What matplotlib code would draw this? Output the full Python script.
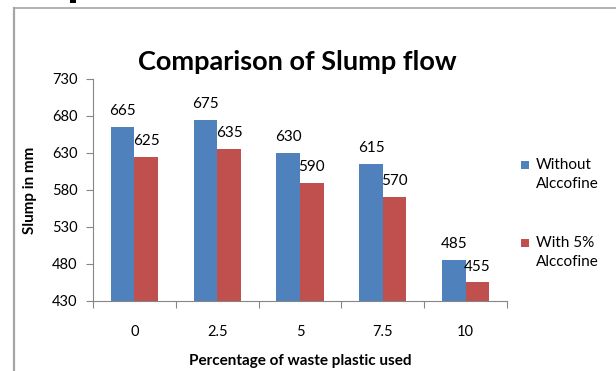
import matplotlib
matplotlib.use('Agg')
import matplotlib.pyplot as plt
import numpy as np
from matplotlib.lines import Line2D
from matplotlib.patches import Rectangle

# data
categories = ['0', '2.5', '5', '7.5', '10']
without_alccofine = [665, 675, 630, 615, 485]
with_alccofine = [625, 635, 590, 570, 455]
series_names = ['Without\nAlccofine', 'With 5%\nAlccofine']

BLUE = '#4F81BD'
RED = '#C0504D'
AXIS = '#868686'
FONT = 'Lato'

W, H = 616, 371
fig = plt.figure(figsize=(W / 100, H / 100), dpi=100)
fig.patch.set_facecolor('white')

# frame of the embedded chart
fig.add_artist(Line2D([14 / W, 14 / W], [0, 1 - 8 / H], color='#A6A6A6', lw=1.6))
fig.add_artist(Line2D([14 / W, 1], [1 - 8 / H, 1 - 8 / H], color='#A6A6A6', lw=1.2))
# bit of document text peeking above the chart
fig.add_artist(Rectangle((70 / W, 1 - 3 / H), 6 / W, 3 / H, color='black', lw=0))

ax = fig.add_axes([93 / W, 1 - 301 / H, (507 - 93) / W, (301 - 79) / H])
x = np.arange(len(categories))
bw = 1 / 3.5
b1 = ax.bar(x - bw / 2, [v - 430 for v in without_alccofine], bw, bottom=430,
            color=BLUE, label=series_names[0])
b2 = ax.bar(x + bw / 2, [v - 430 for v in with_alccofine], bw, bottom=430,
            color=RED, label=series_names[1])

for bars, vals in ((b1, without_alccofine), (b2, with_alccofine)):
    for rect, v in zip(bars, vals):
        ax.annotate(str(v), (rect.get_x() + rect.get_width() / 2, v),
                    xytext=(0, 11.5), textcoords='offset points',
                    ha='center', va='center', fontsize=11, family=FONT,
                    color='black')

ax.set_xlim(-0.5, len(categories) - 0.5)
ax.set_ylim(430, 730)
ax.set_yticks(np.arange(430, 731, 50))
ax.set_xticks(np.arange(-0.5, len(categories)), minor=False)
ax.set_xticklabels([])
ax.set_xticks(x, minor=True)
ax.set_xticklabels(categories, minor=True)
ax.tick_params(axis='x', which='major', length=5, color=AXIS, direction='out')
ax.tick_params(axis='x', which='minor', length=0, pad=17, labelsize=10.5)
ax.tick_params(axis='y', length=5, color=AXIS, direction='out', labelsize=10.5, pad=6)
for lab in ax.get_xticklabels(minor=True) + ax.get_yticklabels():
    lab.set_fontfamily(FONT)

for s in ['top', 'right']:
    ax.spines[s].set_visible(False)
ax.spines['left'].set_color(AXIS)
ax.spines['bottom'].set_color(AXIS)

ax.set_xlabel('Percentage of waste plastic used', fontsize=11, fontweight='bold',
              family=FONT, labelpad=11)
ax.set_ylabel('Slump in mm', fontsize=11, fontweight='bold', family=FONT, labelpad=11)

fig.text(297 / W, 1 - 62 / H, 'Comparison of Slump flow', ha='center', va='center',
         fontsize=19.5, fontweight='bold', family=FONT)

# legend
for (ly, col, name) in ((165, BLUE, series_names[0]), (243, RED, series_names[1])):
    fig.add_artist(Rectangle((521 / W, 1 - (ly + 4) / H), 8 / W, 8 / H, color=col, lw=0))
    fig.text(536 / W, 1 - (ly - 7) / H, name, ha='left', va='top', fontsize=11,
             family=FONT, linespacing=1.45)

fig.savefig('out.png', dpi=100, facecolor='white')
